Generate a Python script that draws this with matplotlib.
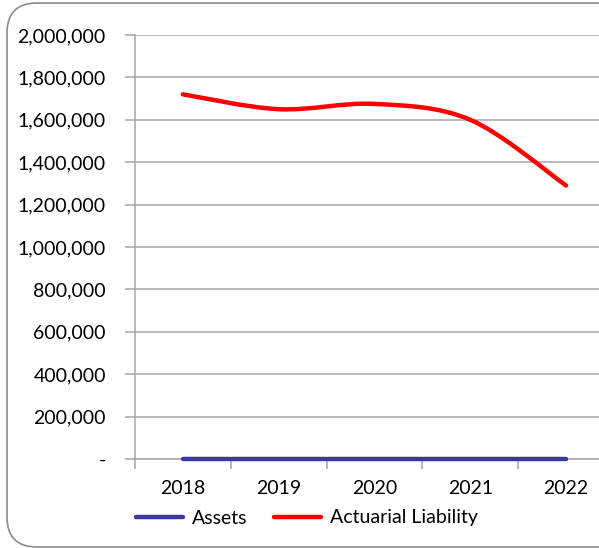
#!/usr/bin/env python

import matplotlib.pyplot as plt
from matplotlib.path import Path
from matplotlib.patches import PathPatch, FancyBboxPatch
from matplotlib.lines import Line2D
from matplotlib.ticker import FuncFormatter

years = ["2018", "2019", "2020", "2021", "2022"]
assets = [0, 0, 0, 0, 0]
actuarial_liability = [1720000, 1650000, 1675000, 1600000, 1290000]

plt.rcParams["font.family"] = ["Lato", "DejaVu Sans"]


def smooth_path(xs, ys):
    # Excel-like smoothed line: cubic Bezier with Catmull-Rom control points
    n = len(xs)
    verts = [(xs[0], ys[0])]
    codes = [Path.MOVETO]
    for i in range(n - 1):
        x0, y0 = xs[max(i - 1, 0)], ys[max(i - 1, 0)]
        x1, y1 = xs[i], ys[i]
        x2, y2 = xs[i + 1], ys[i + 1]
        x3, y3 = xs[min(i + 2, n - 1)], ys[min(i + 2, n - 1)]
        c1 = (x1 + (x2 - x0) / 6, y1 + (y2 - y0) / 6)
        c2 = (x2 - (x3 - x1) / 6, y2 - (y3 - y1) / 6)
        verts += [c1, c2, (x2, y2)]
        codes += [Path.CURVE4] * 3
    return Path(verts, codes)


def plot_chart():
    W, H = 599, 548
    fig = plt.figure(figsize=(W / 100, H / 100), dpi=100)

    # rounded chart frame
    frame = FancyBboxPatch((7 / 100, 1 / 100), 640 / 100, 544 / 100,
                           boxstyle="round,pad=0,rounding_size=0.3",
                           transform=fig.dpi_scale_trans,
                           facecolor="none", edgecolor="#8c8c8c", lw=1.2, zorder=-1)
    fig.add_artist(frame)

    left, right, top, bottom = 135, 614, 35, 459
    ax = fig.add_axes([left / W, (H - bottom) / H, (right - left) / W, (bottom - top) / H])
    ax.set_facecolor("none")

    xs = list(range(len(years)))
    ax.add_patch(PathPatch(smooth_path(xs, actuarial_liability), facecolor="none",
                           edgecolor="#ff0000", lw=3.2, capstyle="round", zorder=3))
    ax.plot(xs, assets, color="#3a3a9c", lw=3.2, solid_capstyle="round", zorder=4,
            clip_on=False)

    ax.set_xlim(-0.5, len(years) - 0.5)
    ax.set_ylim(0, 2000000)
    ax.set_yticks(range(0, 2000001, 200000))
    ax.yaxis.set_major_formatter(FuncFormatter(lambda v, p: "-" if v == 0 else f"{v:,.0f}"))
    ax.grid(axis="y", color="#a6a6a6", lw=1.1)
    ax.set_axisbelow(True)

    ax.set_xticks(xs)
    ax.set_xticklabels(years)
    ax.set_xticks([i - 0.5 for i in range(len(years) + 1)], minor=True)
    ax.tick_params(axis="x", which="major", length=0, pad=15, labelsize=14)
    ax.tick_params(axis="x", which="minor", length=7, color="#a6a6a6", width=1.1)
    ax.tick_params(axis="y", length=7, color="#a6a6a6", width=1.1, pad=14, labelsize=14)

    for s in ["top", "right"]:
        ax.spines[s].set_visible(False)
    for s in ["left", "bottom"]:
        ax.spines[s].set_color("#a6a6a6")
        ax.spines[s].set_linewidth(1.1)

    handles = [Line2D([], [], color="#3a3a9c", lw=3.2, solid_capstyle="round"),
               Line2D([], [], color="#ff0000", lw=3.2, solid_capstyle="round")]
    fig.legend(handles, ["Assets", "Actuarial Liability"], loc="center",
               bbox_to_anchor=(307 / W, (H - 518) / H), ncol=2, frameon=False,
               fontsize=14, handlelength=2.4, handletextpad=0.45, columnspacing=1.4)

    fig.savefig("out.png", dpi=100)
    plt.close(fig)


def main():
    plot_chart()


if __name__ == "__main__":
    main()
